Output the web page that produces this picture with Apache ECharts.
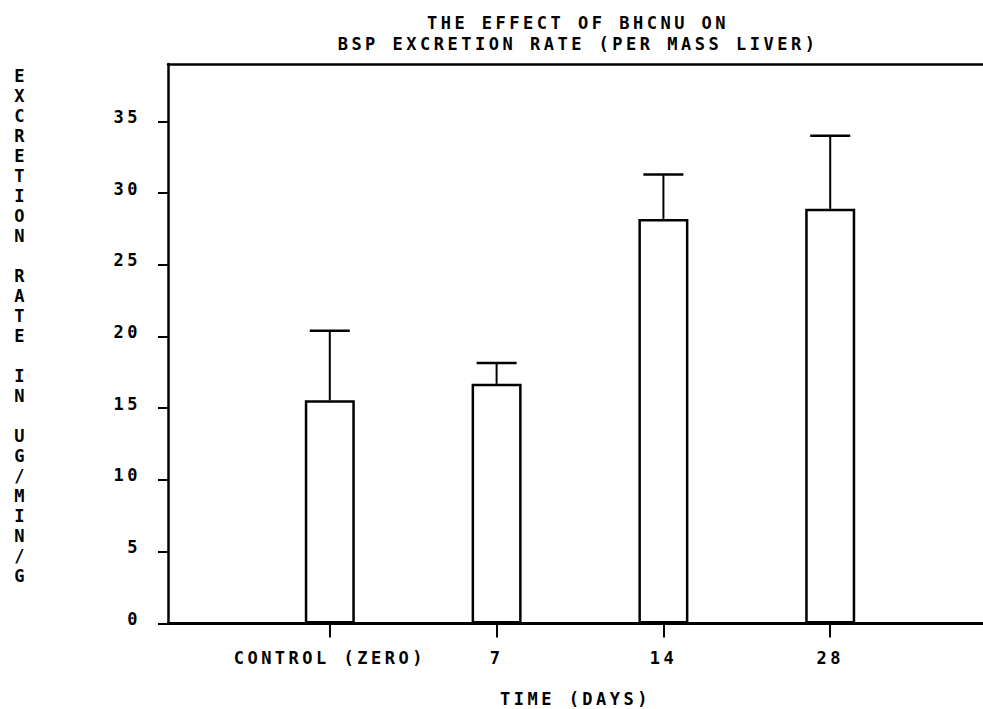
<!DOCTYPE html>
<html><head><meta charset="utf-8">
<script src="https://cdn.jsdelivr.net/npm/echarts@6/dist/echarts.min.js"></script>
<style>
html,body{margin:0;padding:0;background:#fff;}
#chart{width:983px;height:709px;}
#chart text{letter-spacing:3.5px;}
</style></head><body><div id="chart"></div>
<script>
const categories = ['CONTROL (ZERO)', '7', '14', '28'];
const categoryPositions = [1, 2, 3, 4];
const meanValues = [15.55, 16.7, 28.2, 28.9];
const upperErrorValues = [20.4, 18.15, 31.3, 34.0];
const yTickValues = [0, 5, 10, 15, 20, 25, 30, 35];
const titleText = 'THE EFFECT OF BHCNU ON\nBSP EXCRETION RATE (PER MASS LIVER)';
const yAxisTitle = 'EXCRETION RATE IN UG/MIN/G';
const xAxisTitle = 'TIME (DAYS)';

const FONT = 'DejaVu Sans Mono';
const txt = {fontFamily: FONT, fontWeight: 'bold', fontSize: 17, color: '#000'};

const chart = echarts.init(document.getElementById('chart'), null, {renderer: 'svg'});
chart.setOption({
  backgroundColor: '#fff',
  animation: false,
  title: {
    text: titleText,
    left: 578, top: 12, padding: 0,
    textAlign: 'center',
    textStyle: Object.assign({}, txt, {lineHeight: 21})
  },
  graphic: [{
    type: 'text',
    x: 21, y: 66,
    style: {
      text: yAxisTitle.split('').join('\n'),
      font: 'bold 17px "' + FONT + '"',
      fill: '#000',
      align: 'center',
      verticalAlign: 'top',
      lineHeight: 20
    }
  }],
  grid: {
    left: 168, top: 64, right: 0, height: 559.4,
    show: false,
    outerBoundsMode: 'none',
    containLabel: false
  },
  xAxis: [{
    type: 'value', min: 0.03, max: 4.916,
    name: xAxisTitle, nameLocation: 'middle', nameGap: 67,
    nameTextStyle: txt,
    axisLine: {show: true, lineStyle: {color: '#000', width: 3}},
    axisTick: {show: true, customValues: categoryPositions, length: 14, lineStyle: {color: '#000', width: 2}},
    axisLabel: Object.assign({}, txt, {
      customValues: categoryPositions,
      margin: 26,
      formatter: v => categories[categoryPositions.indexOf(Math.round(v))]
    }),
    splitLine: {show: false}
  }, {
    type: 'value', min: 0.03, max: 4.916, position: 'top',
    axisLine: {show: true, lineStyle: {color: '#000', width: 2.5}},
    axisTick: {show: false}, axisLabel: {show: false}, splitLine: {show: false}
  }],
  yAxis: {
    type: 'value', min: 0, max: 39, interval: 5,
    axisLine: {show: true, lineStyle: {color: '#000', width: 2.5}},
    axisTick: {show: true, customValues: yTickValues, length: 10, lineStyle: {color: '#000', width: 2}},
    axisLabel: Object.assign({}, txt, {customValues: yTickValues, margin: 27, verticalAlign: 'bottom', lineHeight: 9}),
    splitLine: {show: false}
  },
  series: [{
    type: 'bar',
    data: categoryPositions.map((p, i) => [p, meanValues[i]]),
    barWidth: 50,
    itemStyle: {color: '#fff', borderColor: '#000', borderWidth: 2.5},
    z: 2
  }, {
    type: 'custom',
    data: categoryPositions.map((p, i) => [p, meanValues[i], upperErrorValues[i]]),
    encode: {x: 0, y: [1, 2]},
    z: 3,
    renderItem: function (params, api) {
      const x = api.value(0);
      const lo = api.coord([x, api.value(1)]);
      const hi = api.coord([x, api.value(2)]);
      return {
        type: 'group',
        children: [{
          type: 'line',
          shape: {x1: lo[0], y1: lo[1], x2: hi[0], y2: hi[1]},
          style: {stroke: '#000', lineWidth: 2}
        }, {
          type: 'line',
          shape: {x1: hi[0] - 20, y1: hi[1], x2: hi[0] + 20, y2: hi[1]},
          style: {stroke: '#000', lineWidth: 2.5}
        }]
      };
    }
  }]
});
</script></body></html>
